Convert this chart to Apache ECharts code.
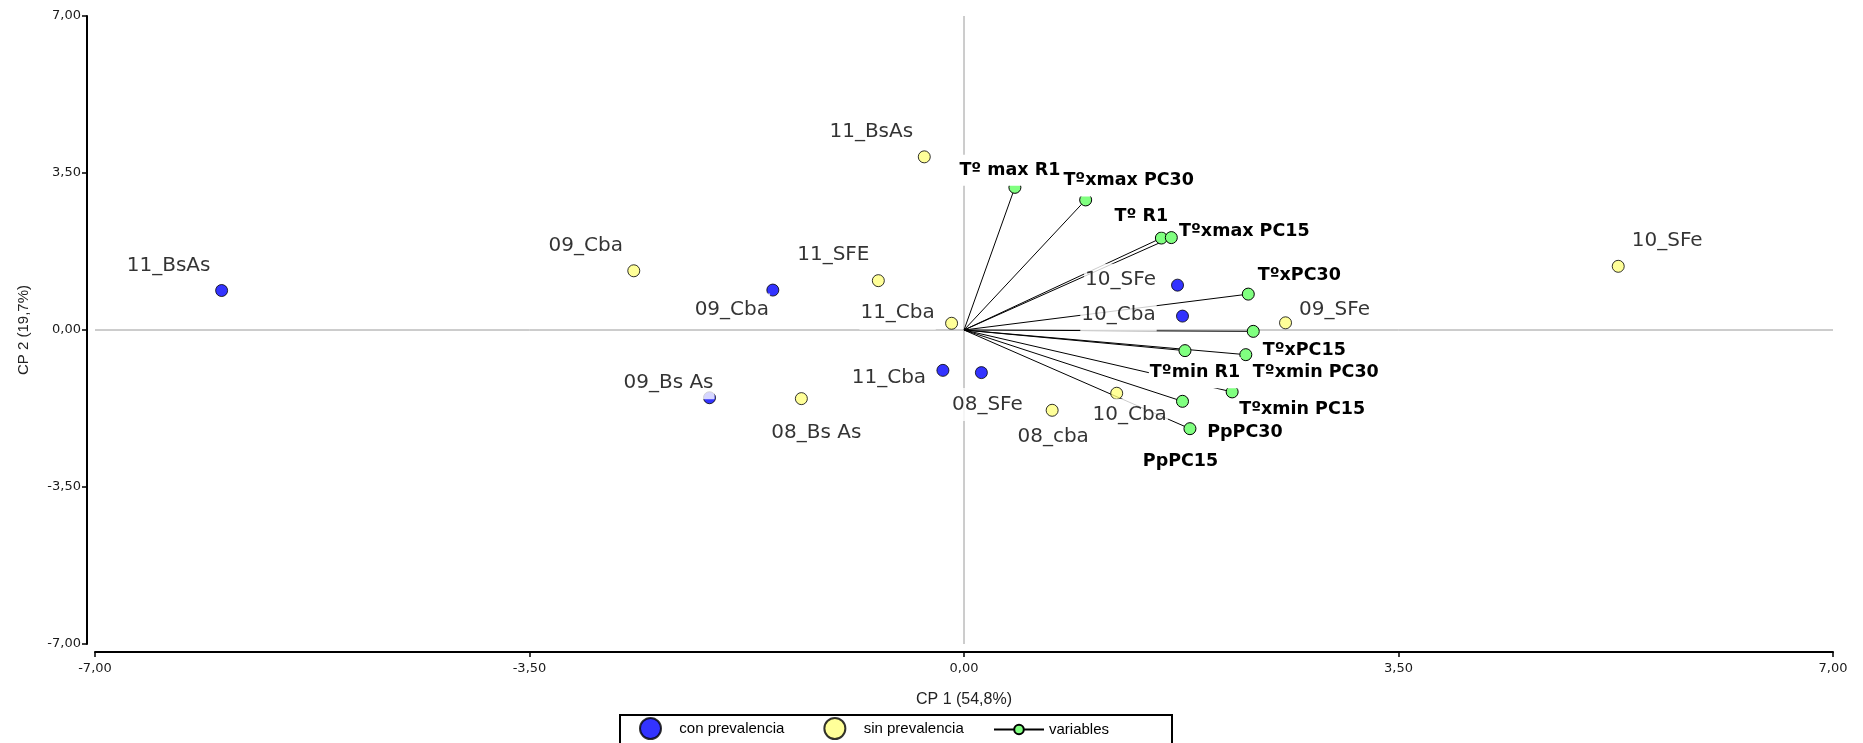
<!DOCTYPE html>
<html>
<head>
<meta charset="utf-8">
<script src="https://cdn.jsdelivr.net/npm/echarts@6/dist/echarts.min.js"></script>
<style>html,body{margin:0;padding:0;background:#fff}#c{width:1863px;height:743px}</style>
</head>
<body>
<div id="c"></div>
<script>
// ---- data ----
const axisMin = -7, axisMax = 7, axisStep = 3.5;

const conNames = ['11_BsAs', '09_Cba', '09_Bs As', '11_Cba', '08_SFe', '10_SFe', '10_Cba'];
const conX = [-5.98, -1.54, -2.05, -0.17, 0.14, 1.72, 1.76];
const conY = [0.88, 0.89, -1.51, -0.90, -0.95, 1.00, 0.31];

const sinNames = ['11_BsAs', '09_Cba', '11_SFE', '11_Cba', '08_Bs As', '10_SFe', '09_SFe', '10_Cba', '08_cba'];
const sinX = [-0.32, -2.66, -0.69, -0.10, -1.31, 5.27, 2.59, 1.23, 0.71];
const sinY = [3.86, 1.32, 1.10, 0.15, -1.53, 1.42, 0.16, -1.41, -1.79];

const varNames = ['Tº max R1', 'Tºxmax PC30', 'Tº R1', 'Tºxmax PC15', 'TºxPC30', 'TºxPC15',
                  'Tºmin R1', 'Tºxmin PC30', 'Tºxmin PC15', 'PpPC15', 'PpPC30'];
const varX = [0.41, 0.98, 1.59, 1.67, 2.29, 2.33, 1.78, 2.27, 2.16, 1.76, 1.82];
const varY = [3.18, 2.90, 2.05, 2.06, 0.80, -0.03, -0.46, -0.55, -1.38, -1.59, -2.20];

// ---- label placement (layout only) ----
const conLabelOffset = [[-53, -25], [-41, 20], [-41, -15], [-54, 7], [6, 32], [-57, -5], [-64, -1]];
const sinLabelOffset = [[-53, -25], [-48, -25], [-45, -26], [-54, -10], [15, 34], [49, -26], [49, -13], [13, 22], [1, 27]];
const varLabelOffset = [[-5, -17], [43, -19], [-20, -22], [73, -6], [51, -19], [51, 19], [10, 22], [70, 18], [70, 18], [-2, 60], [55, 4]];

const fmt = v => v.toFixed(2).replace('.', ',');

function points(xs, ys, names, offs) {
  return xs.map((x, i) => ({ name: names[i], value: [x, ys[i]], label: { offset: offs[i] } }));
}

const vecData = [];
varX.forEach((x, i) => {
  vecData.push({ value: [0, 0], symbolSize: 0, label: { show: false } });
  vecData.push({ name: varNames[i], value: [x, varY[i]], label: { offset: varLabelOffset[i] } });
  vecData.push({ value: ['-', '-'] });
});

const ptLabel = {
  show: true, position: 'inside', formatter: p => p.name,
  fontFamily: 'DejaVu Sans', fontSize: 20, color: '#000',
  backgroundColor: '#fff', padding: [4, 1], lineHeight: 25
};

const tickLabel = { formatter: fmt, fontFamily: 'DejaVu Sans', fontSize: 13, color: '#1a1a1a' };

const chart = echarts.init(document.getElementById('c'), null, { renderer: 'canvas' });
chart.setOption({
  animation: false,
  backgroundColor: '#fff',
  grid: { left: 95, right: 30, top: 16, bottom: 99, containLabel: false },
  xAxis: {
    type: 'value', min: axisMin, max: axisMax, interval: axisStep, offset: 8,
    axisLine: { show: true, onZero: false, lineStyle: { color: '#000', width: 2 } },
    axisTick: { show: true, length: 5, lineStyle: { color: '#000', width: 1.5 } },
    axisLabel: Object.assign({ margin: 10 }, tickLabel),
    splitLine: { show: false },
    name: 'CP 1 (54,8%)', nameLocation: 'middle', nameGap: 40,
    nameTextStyle: { fontFamily: 'Liberation Sans', fontSize: 16, color: '#222' }
  },
  yAxis: {
    type: 'value', min: axisMin, max: axisMax, interval: axisStep, offset: 8,
    axisLine: { show: true, onZero: false, lineStyle: { color: '#000', width: 2 } },
    axisTick: { show: true, length: 5, lineStyle: { color: '#000', width: 1.5 } },
    axisLabel: Object.assign({ margin: 6 }, tickLabel),
    splitLine: { show: false },
    name: 'CP 2 (19,7%)', nameLocation: 'middle', nameGap: 56,
    nameTextStyle: { fontFamily: 'Liberation Sans', fontSize: 15, color: '#222' }
  },
  legend: [
    {
      data: [{ name: 'con prevalencia', icon: 'circle' }, { name: 'sin prevalencia', icon: 'circle' }],
      left: 639, top: 717, padding: 0, itemWidth: 47.6, itemHeight: 21, itemGap: 39,
      textStyle: { fontFamily: 'Liberation Sans', fontSize: 15, color: '#000' },
      selectedMode: false
    },
    {
      data: ['variables'],
      left: 993, top: 722, padding: 0, itemWidth: 50, itemHeight: 12,
      textStyle: { fontFamily: 'Liberation Sans', fontSize: 15, color: '#000' },
      selectedMode: false
    }
  ],
  graphic: [{
    type: 'rect', silent: true, z: 0,
    shape: { x: 620, y: 715, width: 552, height: 60 },
    style: { fill: 'none', stroke: '#000', lineWidth: 2 }
  }],
  series: [
    {
      name: 'ejes', type: 'line', z: 1, silent: true, symbol: 'none',
      data: [[axisMin, 0], [axisMax, 0], ['-', '-'], [0, axisMin], [0, axisMax]],
      lineStyle: { color: '#9a9a9a', width: 1 }
    },
    {
      name: 'variables', type: 'line', z: 2, silent: true,
      data: vecData, connectNulls: false,
      symbol: 'circle', symbolSize: 12, showSymbol: true, showAllSymbol: true,
      itemStyle: { color: '#80ff80', borderColor: '#000', borderWidth: 1 },
      lineStyle: { color: '#000', width: 1 },
      label: Object.assign({}, ptLabel, { fontSize: 17.5, fontWeight: 'bold', color: '#000', lineHeight: 23 })
    },
    {
      name: 'sin prevalencia', type: 'scatter', z: 3, silent: true, symbolSize: 12,
      itemStyle: { color: '#ffff80', borderColor: '#000', borderWidth: 1 },
      label: ptLabel,
      data: points(sinX, sinY, sinNames, sinLabelOffset)
    },
    {
      name: 'con prevalencia', type: 'scatter', z: 3, silent: true, symbolSize: 12,
      itemStyle: { color: '#0000ff', borderColor: '#000', borderWidth: 1 },
      label: ptLabel,
      data: points(conX, conY, conNames, conLabelOffset)
    }
  ]
});
</script>
</body>
</html>
